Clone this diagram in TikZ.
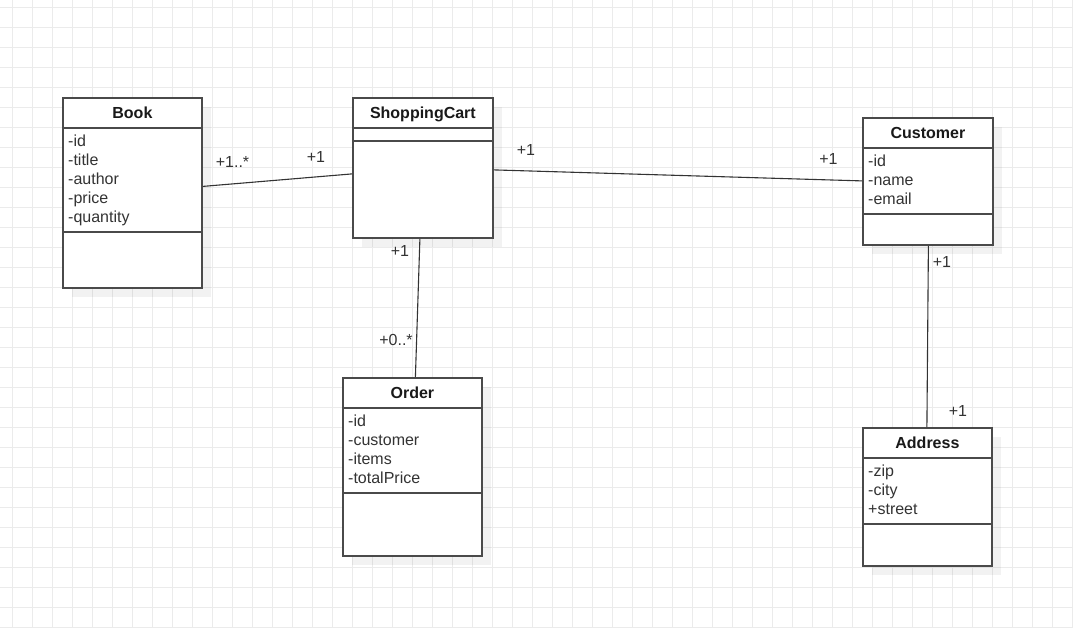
\documentclass[tikz,border=0pt]{standalone}
\usepackage{fontspec}
\setmainfont{Liberation Sans}
\usetikzlibrary{shadows}

\definecolor{gridcol}{HTML}{EBEBEB}
\definecolor{boxcol}{HTML}{4A4A4A}
\definecolor{linecol}{HTML}{333333}
\definecolor{txtcol}{HTML}{333333}

\begin{document}
\begin{tikzpicture}[x=1pt, y=-1pt,
    umlclass/.style={draw=boxcol, line width=1.8pt, fill=white, anchor=north west, inner sep=0pt,
        drop shadow={shadow xshift=9pt, shadow yshift=-9pt, fill=black, opacity=0.05}},
    classname/.style={anchor=base, inner sep=0pt, font=\fontsize{16}{19}\selectfont\bfseries, text=black!90},
    attr/.style={anchor=base west, inner sep=0pt, font=\fontsize{16}{19}\selectfont, text=txtcol},
    mult/.style={anchor=base, inner sep=0pt, font=\fontsize{16}{19}\selectfont, text=txtcol},
    sep/.style={draw=boxcol, line width=1.5pt},
    assoc/.style={draw=linecol, line width=1.1pt}]
    \useasboundingbox (0,0) rectangle (1073,627);
    \fill[white] (0,0) rectangle (1073,627);
    \foreach \x in {12,32,...,1072} \draw[gridcol, line width=1pt] (\x,0) -- (\x,627);   %Gitter
    \foreach \y in {7,27,...,627} \draw[gridcol, line width=1pt] (0,\y) -- (1073,\y);

    % Book
    \node[umlclass, minimum width=139pt, minimum height=190pt] (book) at (62,97) {};
    \draw[sep] ([yshift=-31pt]book.north west) -- ([yshift=-31pt]book.north east);
    \draw[sep] ([yshift=-135pt]book.north west) -- ([yshift=-135pt]book.north east);
    \node[classname] (book-name) at ([yshift=-21.5pt]book.north) {Book};
    \foreach \a [count=\i] in {-id,-title,-author,-price,-quantity}
        \node[attr] (book-a\i) at (68,{127.5+19*\i}) {\a};

    % ShoppingCart
    \node[umlclass, minimum width=140pt, minimum height=140pt] (cart) at (352,97) {};
    \draw[sep] ([yshift=-31pt]cart.north west) -- ([yshift=-31pt]cart.north east);
    \draw[sep] ([yshift=-44pt]cart.north west) -- ([yshift=-44pt]cart.north east);
    \node[classname] (cart-name) at ([yshift=-21.5pt]cart.north) {ShoppingCart};

    % Customer
    \node[umlclass, minimum width=130pt, minimum height=127pt] (customer) at (862,117) {};
    \draw[sep] ([yshift=-31pt]customer.north west) -- ([yshift=-31pt]customer.north east);
    \draw[sep] ([yshift=-97pt]customer.north west) -- ([yshift=-97pt]customer.north east);
    \node[classname] (customer-name) at ([yshift=-21.5pt]customer.north) {Customer};
    \foreach \a [count=\i] in {-id,-name,-email}
        \node[attr] (customer-a\i) at (868,{147.5+19*\i}) {\a};

    % Order
    \node[umlclass, minimum width=139pt, minimum height=178pt] (order) at (342,377) {};
    \draw[sep] ([yshift=-31pt]order.north west) -- ([yshift=-31pt]order.north east);
    \draw[sep] ([yshift=-116pt]order.north west) -- ([yshift=-116pt]order.north east);
    \node[classname] (order-name) at ([yshift=-21.5pt]order.north) {Order};
    \foreach \a [count=\i] in {-id,-customer,-items,-totalPrice}
        \node[attr] (order-a\i) at (348,{407.5+19*\i}) {\a};

    % Address
    \node[umlclass, minimum width=129pt, minimum height=138pt] (address) at (862,427) {};
    \draw[sep] ([yshift=-31pt]address.north west) -- ([yshift=-31pt]address.north east);
    \draw[sep] ([yshift=-97pt]address.north west) -- ([yshift=-97pt]address.north east);
    \node[classname] (address-name) at ([yshift=-21.5pt]address.north) {Address};
    \foreach \a [count=\i] in {-zip,-city,+street}
        \node[attr] (address-a\i) at (868,{457.5+19*\i}) {\a};

    % Assoziationen
    \draw[assoc] ([yshift=6.5pt]book.east) -- ([yshift=-6pt]cart.west);
    \draw[assoc] ([yshift=-2pt]cart.east) -- ([yshift=0.5pt]customer.west);
    \draw[assoc] ([xshift=-3pt]cart.south) -- ([xshift=3pt]order.north);
    \draw[assoc] ([xshift=0.5pt]customer.south) -- ([xshift=-0.5pt]address.north);

    \node[mult] (m1) at (232.5,167) {+1..*};
    \node[mult] (m2) at (316,162) {+1};
    \node[mult] (m3) at (526,155) {+1};
    \node[mult] (m4) at (828.5,164.5) {+1};
    \node[mult] (m5) at (400,256) {+1};
    \node[mult] (m6) at (396,345) {+0..*};
    \node[mult] (m7) at (942,267.5) {+1};
    \node[mult] (m8) at (958,416) {+1};
\end{tikzpicture}
\end{document}
